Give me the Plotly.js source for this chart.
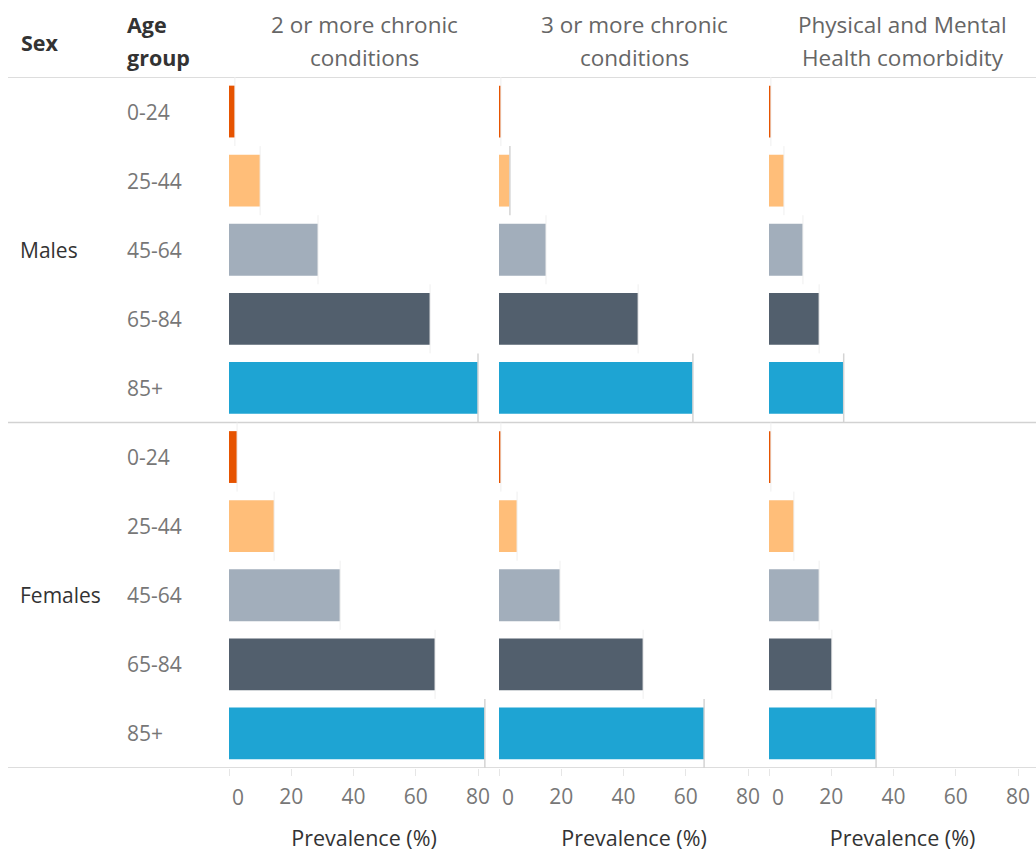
<!DOCTYPE html>
<html>
<head>
<meta charset="utf-8">
<script src="https://cdn.plot.ly/plotly-3.0.1.min.js"></script>
<style>
  html, body { margin: 0; padding: 0; background: #fff; }
  #chart { width: 1036px; height: 852px; }
</style>
</head>
<body>
<div id="chart"></div>
<script>
// ---------- data ----------
const sexes = ['Males', 'Females'];
const ageGroups = ['0-24', '25-44', '45-64', '65-84', '85+'];
const measures = ['2 or more chronic<br>conditions', '3 or more chronic<br>conditions', 'Physical and Mental<br>Health comorbidity'];
const xTicks = [0, 20, 40, 60, 80];
const axisTitle = 'Prevalence (%)';

// prevalence (%) by age group, per measure and sex
const twoPlusMales     = [1.9, 10.0, 28.6, 64.6, 80.0];
const twoPlusFemales   = [2.6, 14.5, 35.7, 66.2, 82.2];
const threePlusMales   = [0.6, 3.5, 15.1, 44.7, 62.3];
const threePlusFemales = [0.6, 5.8, 19.6, 46.3, 65.9];
const physMentMales    = [0.6, 4.8, 10.9, 16.1, 24.0];
const physMentFemales  = [0.6, 8.0, 16.1, 20.2, 34.4];

// ---------- styling ----------
const ageColors = ['#e65300', '#ffbe79', '#a2aebb', '#525f6d', '#1ea4d3'];
const FONT = '"Open Sans", "Noto Sans", sans-serif';
const W = 1036, H = 852;
const padL = 229, plotTop = 77, plotBottom = 768;
const panelW = 270;
const pxPerUnit = 249 / 80;
const tickFont = {size: 21, color: '#777777', family: FONT};

const seriesByMeasure = [
  [twoPlusMales, twoPlusFemales],
  [threePlusMales, threePlusFemales],
  [physMentMales, physMentFemales]
];

const nAge = ageGroups.length;
const rowIndex = (s, a) => s * nAge + a;
const yPaper = py => (plotBottom - py) / (plotBottom - plotTop);

const traces = [];
const annotations = [];
const shapes = [];
const layout = {
  width: W, height: H,
  margin: {l: 0, r: 0, t: plotTop, b: H - plotBottom},
  paper_bgcolor: '#fff', plot_bgcolor: '#fff',
  showlegend: false,
  font: {family: FONT},
  bargap: 0.25,
  yaxis: {
    range: [sexes.length * nAge - 0.5, -0.5],
    showticklabels: false, showgrid: false, zeroline: false, ticks: '',
    fixedrange: true
  }
};

// the first tick label is drawn nudged right so it stays inside its pane
const tickText = xTicks.map((t, i) => (i === 0 ? '' : String(t)));

measures.forEach((m, mi) => {
  const ax = mi === 0 ? '' : String(mi + 1);
  const x0 = padL + mi * panelW;
  const x1 = Math.min(x0 + panelW, W);
  layout['xaxis' + ax] = {
    domain: [x0 / W, x1 / W],
    range: [0, (x1 - x0) / pxPerUnit],
    anchor: 'y',
    tickvals: xTicks,
    ticktext: tickText,
    ticks: 'outside', ticklen: 7, tickcolor: '#e6e6e6', tickwidth: 1,
    tickfont: tickFont,
    ticklabelstandoff: 3,
    showgrid: false, zeroline: false, showline: false,
    fixedrange: true,
    title: {text: axisTitle, font: {size: 21.5, color: '#333333', family: FONT}, standoff: 25}
  };
  annotations.push({
    text: String(xTicks[0]), xref: 'x' + ax, yref: 'paper', x: xTicks[0], y: yPaper(797),
    xanchor: 'center', yanchor: 'middle', xshift: 9, showarrow: false, font: tickFont
  });

  const ys = [], xs = [], cols = [], hov = [];
  const refFaint = {x: [], y: []}, refDark = {x: [], y: []};
  sexes.forEach((s, si) => {
    seriesByMeasure[mi][si].forEach((v, ai) => {
      const r = rowIndex(si, ai);
      ys.push(r); xs.push(v); cols.push(ageColors[ai]);
      hov.push(s + ', ' + ageGroups[ai] + ': ' + v + '%');
      const dark = (ai === nAge - 1) || (mi === 1 && si === 0 && ai === 1);
      const tgt = dark ? refDark : refFaint;
      tgt.x.push(v, v, null);
      tgt.y.push(r - 0.5, r + 0.5, null);
    });
  });
  traces.push({
    type: 'bar', orientation: 'h', x: xs, y: ys,
    xaxis: 'x' + ax, yaxis: 'y', width: 0.75,
    marker: {color: cols, line: {width: 0}},
    hovertext: hov, hoverinfo: 'text'
  });
  traces.push({type: 'scatter', mode: 'lines', x: refFaint.x, y: refFaint.y, xaxis: 'x' + ax, yaxis: 'y',
    line: {color: '#efefef', width: 1}, hoverinfo: 'skip'});
  traces.push({type: 'scatter', mode: 'lines', x: refDark.x, y: refDark.y, xaxis: 'x' + ax, yaxis: 'y',
    line: {color: '#d4d4d4', width: 1.5}, hoverinfo: 'skip'});

  // panel title (two lines)
  const lines = m.split('<br>');
  const lineY = [25, 57];
  lines.forEach((t, li) => {
    annotations.push({
      text: t, xref: 'paper', yref: 'paper',
      x: (x0 + x1) / 2 / W, y: yPaper(lineY[li]),
      xanchor: 'center', yanchor: 'middle', showarrow: false,
      font: {size: 22.5, color: '#666666', family: FONT}
    });
  });
});

// header labels
annotations.push({text: '<b>Sex</b>', xref: 'paper', yref: 'paper', x: 19 / W, y: yPaper(42),
  xanchor: 'left', yanchor: 'middle', showarrow: false, font: {size: 21.5, color: '#333333', family: FONT}});
['Age', 'group'].forEach((t, i) => annotations.push({text: '<b>' + t + '</b>', xref: 'paper', yref: 'paper',
  x: 125 / W, y: yPaper([25, 57][i]), xanchor: 'left', yanchor: 'middle', showarrow: false,
  font: {size: 21.5, color: '#333333', family: FONT}}));

// row labels
sexes.forEach((s, si) => {
  annotations.push({text: s, xref: 'paper', yref: 'y', x: 18 / W, y: rowIndex(si, (nAge - 1) / 2),
    xanchor: 'left', yanchor: 'middle', showarrow: false, font: {size: 21, color: '#333333', family: FONT}});
  ageGroups.forEach((a, ai) => {
    annotations.push({text: a, xref: 'paper', yref: 'y', x: 125 / W, y: rowIndex(si, ai),
      xanchor: 'left', yanchor: 'middle', showarrow: false, font: {size: 21, color: '#777777', family: FONT}});
  });
});

// horizontal separators
const sepRows = [-0.5];
sexes.forEach((s, si) => sepRows.push(rowIndex(si, nAge - 1) + 0.5));
sepRows.forEach(r => shapes.push({type: 'line', xref: 'paper', yref: 'y', x0: 8 / W, x1: 1, y0: r, y1: r,
  line: {color: '#d2d2d2', width: 1.5}, layer: 'below'}));

layout.annotations = annotations;
layout.shapes = shapes;

Plotly.newPlot('chart', traces, layout, {displayModeBar: false, staticPlot: false});
</script>
</body>
</html>
